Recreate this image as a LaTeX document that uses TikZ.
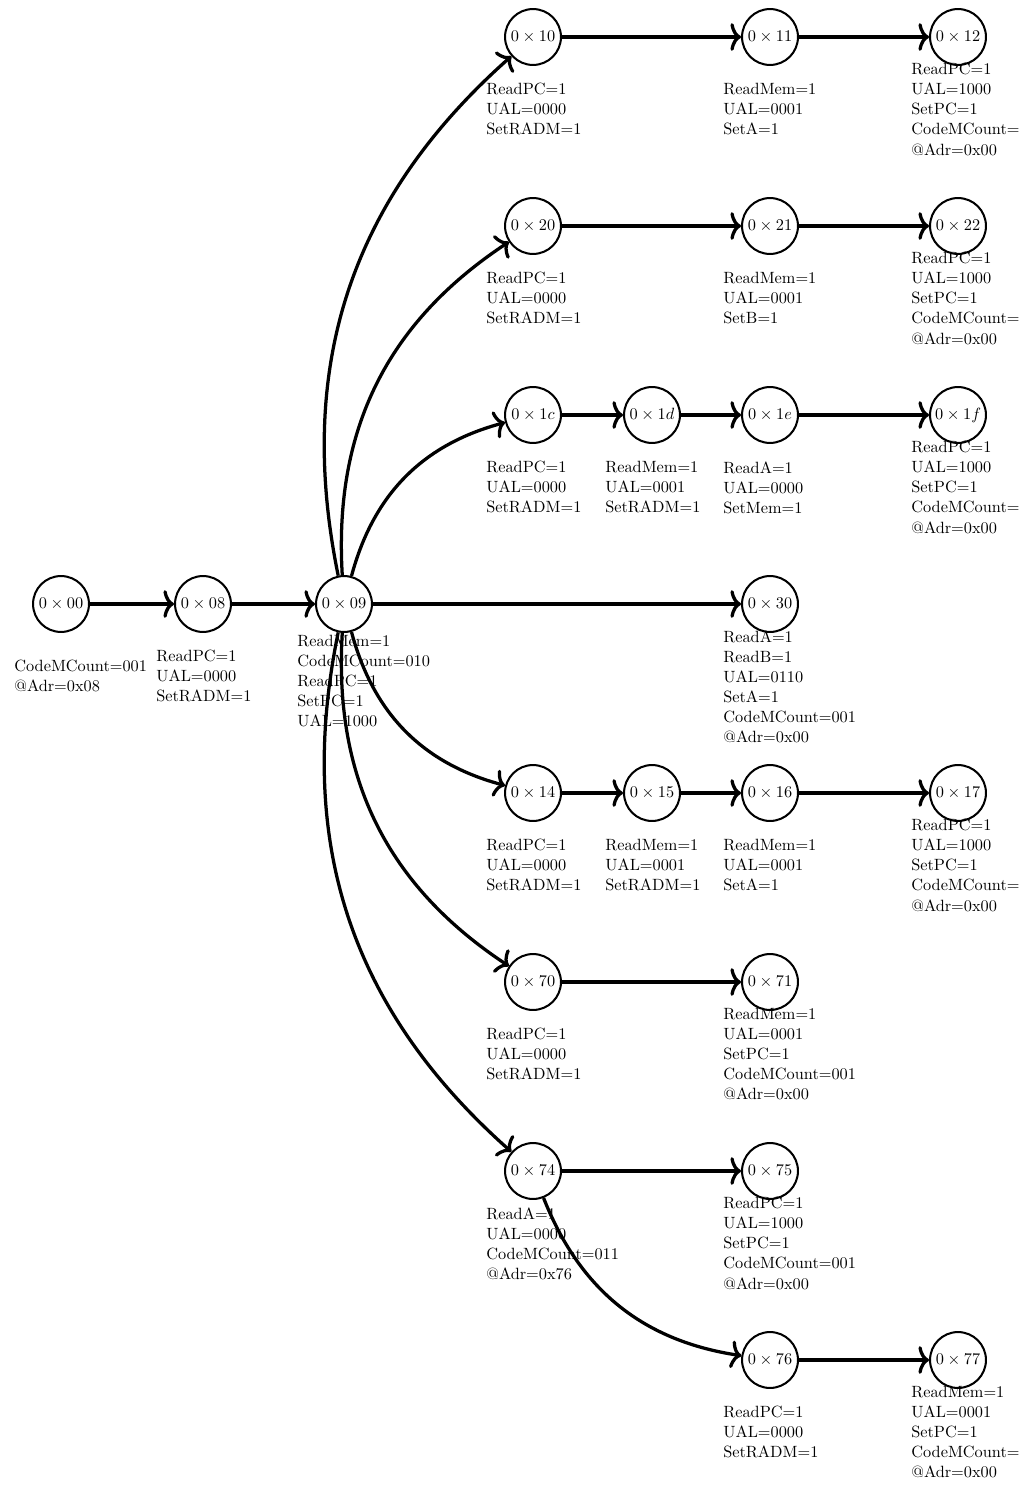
\documentclass[tikz,border=0pt]{standalone}
\usetikzlibrary{arrows.meta,calc}
\begin{document}
\begin{tikzpicture}[x=0.6135pt,y=-0.6135pt,
  state/.style={circle,draw,line width=1.25pt,minimum size=34.3pt,inner sep=0pt},
  arr/.style={line width=2pt,-{To[length=6.5pt,width=17pt]}},
  lbl/.style={align=left,anchor=north west,inner sep=0pt,font=\fontsize{10}{12.3}\selectfont}]
\useasboundingbox (0,0) rectangle (1020,1490);
% states
\node[state] (n00) at (61,604) {$0\times00$};
\node[state] (n08) at (203,604) {$0\times08$};
\node[state] (n09) at (344,604) {$0\times09$};
\node[state] (n30) at (770,604) {$0\times30$};
\node[state] (n10) at (533,37) {$0\times10$};
\node[state] (n11) at (770,37) {$0\times11$};
\node[state] (n12) at (958,37) {$0\times12$};
\node[state] (n20) at (533,226) {$0\times20$};
\node[state] (n21) at (770,226) {$0\times21$};
\node[state] (n22) at (958,226) {$0\times22$};
\node[state] (n1c) at (533,415) {$0\times1c$};
\node[state] (n1d) at (652,415) {$0\times1d$};
\node[state] (n1e) at (770,415) {$0\times1e$};
\node[state] (n1f) at (958,415) {$0\times1f$};
\node[state] (n14) at (533,793) {$0\times14$};
\node[state] (n15) at (652,793) {$0\times15$};
\node[state] (n16) at (770,793) {$0\times16$};
\node[state] (n17) at (958,793) {$0\times17$};
\node[state] (n70) at (533,982) {$0\times70$};
\node[state] (n71) at (770,982) {$0\times71$};
\node[state] (n74) at (533,1171) {$0\times74$};
\node[state] (n75) at (770,1171) {$0\times75$};
\node[state] (n76) at (770,1360) {$0\times76$};
\node[state] (n77) at (958,1360) {$0\times77$};
% labels
\node[lbl] (l00) at ($(n00.center)+(-47,56)$) {CodeMCount=001\\@Adr=0x08};
\node[lbl] (l08) at ($(n08.center)+(-47,46)$) {ReadPC=1\\UAL=0000\\SetRADM=1};
\node[lbl] (l09) at ($(n09.center)+(-47,31)$) {ReadMem=1\\CodeMCount=010\\ReadPC=1\\SetPC=1\\UAL=1000};
\node[lbl] (l30) at ($(n30.center)+(-47,26)$) {ReadA=1\\ReadB=1\\UAL=0110\\SetA=1\\CodeMCount=001\\@Adr=0x00};
\node[lbl] (l10) at ($(n10.center)+(-47,46)$) {ReadPC=1\\UAL=0000\\SetRADM=1};
\node[lbl] (l11) at ($(n11.center)+(-47,46)$) {ReadMem=1\\UAL=0001\\SetA=1};
\node[lbl] (l12) at ($(n12.center)+(-47,26)$) {ReadPC=1\\UAL=1000\\SetPC=1\\CodeMCount=\\@Adr=0x00};
\node[lbl] (l20) at ($(n20.center)+(-47,46)$) {ReadPC=1\\UAL=0000\\SetRADM=1};
\node[lbl] (l21) at ($(n21.center)+(-47,46)$) {ReadMem=1\\UAL=0001\\SetB=1};
\node[lbl] (l22) at ($(n22.center)+(-47,26)$) {ReadPC=1\\UAL=1000\\SetPC=1\\CodeMCount=\\@Adr=0x00};
\node[lbl] (l1c) at ($(n1c.center)+(-47,46)$) {ReadPC=1\\UAL=0000\\SetRADM=1};
\node[lbl] (l1d) at ($(n1d.center)+(-47,46)$) {ReadMem=1\\UAL=0001\\SetRADM=1};
\node[lbl] (l1e) at ($(n1e.center)+(-47,46)$) {ReadA=1\\UAL=0000\\SetMem=1};
\node[lbl] (l1f) at ($(n1f.center)+(-47,26)$) {ReadPC=1\\UAL=1000\\SetPC=1\\CodeMCount=\\@Adr=0x00};
\node[lbl] (l14) at ($(n14.center)+(-47,46)$) {ReadPC=1\\UAL=0000\\SetRADM=1};
\node[lbl] (l15) at ($(n15.center)+(-47,46)$) {ReadMem=1\\UAL=0001\\SetRADM=1};
\node[lbl] (l16) at ($(n16.center)+(-47,46)$) {ReadMem=1\\UAL=0001\\SetA=1};
\node[lbl] (l17) at ($(n17.center)+(-47,26)$) {ReadPC=1\\UAL=1000\\SetPC=1\\CodeMCount=\\@Adr=0x00};
\node[lbl] (l70) at ($(n70.center)+(-47,46)$) {ReadPC=1\\UAL=0000\\SetRADM=1};
\node[lbl] (l71) at ($(n71.center)+(-47,26)$) {ReadMem=1\\UAL=0001\\SetPC=1\\CodeMCount=001\\@Adr=0x00};
\node[lbl] (l74) at ($(n74.center)+(-47,36)$) {ReadA=1\\UAL=0000\\CodeMCount=011\\@Adr=0x76};
\node[lbl] (l75) at ($(n75.center)+(-47,26)$) {ReadPC=1\\UAL=1000\\SetPC=1\\CodeMCount=001\\@Adr=0x00};
\node[lbl] (l76) at ($(n76.center)+(-47,46)$) {ReadPC=1\\UAL=0000\\SetRADM=1};
\node[lbl] (l77) at ($(n77.center)+(-47,26)$) {ReadMem=1\\UAL=0001\\SetPC=1\\CodeMCount=\\@Adr=0x00};
% edges
\draw[arr] (n00) -- (n08);
\draw[arr] (n08) -- (n09);
\draw[arr] (n09) -- (n30);
\draw[arr] (n09) to[bend left] (n10);
\draw[arr] (n09) to[bend left] (n20);
\draw[arr] (n09) to[bend left] (n1c);
\draw[arr] (n09) to[bend right] (n14);
\draw[arr] (n09) to[bend right] (n70);
\draw[arr] (n09) to[bend right] (n74);
\draw[arr] (n10) -- (n11);
\draw[arr] (n11) -- (n12);
\draw[arr] (n20) -- (n21);
\draw[arr] (n21) -- (n22);
\draw[arr] (n1c) -- (n1d);
\draw[arr] (n1d) -- (n1e);
\draw[arr] (n1e) -- (n1f);
\draw[arr] (n14) -- (n15);
\draw[arr] (n15) -- (n16);
\draw[arr] (n16) -- (n17);
\draw[arr] (n70) -- (n71);
\draw[arr] (n74) -- (n75);
\draw[arr] (n74) to[bend right] (n76);
\draw[arr] (n76) -- (n77);
\end{tikzpicture}
\end{document}
